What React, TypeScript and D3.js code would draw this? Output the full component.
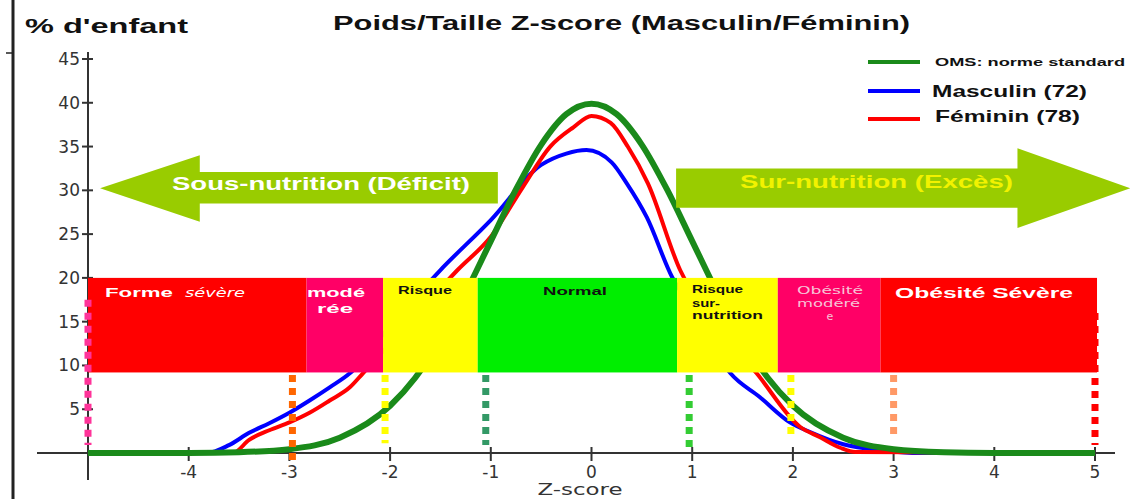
import React from "react";
import * as d3 from "d3";

// ---- data ----
const omsZ = [-5, -4, -3.5, -3, -2.5, -2, -1.75, -1.5, -1.25, -1, -0.75, -0.5, -0.25, 0, 0.25, 0.5, 0.75, 1, 1.25, 1.5, 1.75, 2, 2.5, 3, 3.5, 4, 5];
const omsPct = [0, 0.01, 0.09, 0.44, 1.75, 5.4, 8.6, 12.95, 18.3, 24.2, 30.1, 35.2, 38.7, 39.9, 38.7, 35.2, 30.1, 24.2, 18.3, 12.95, 8.6, 5.4, 1.75, 0.44, 0.09, 0.01, 0];

const masZ = [-5, -3.82, -3.6, -3.4, -3.2, -3.0, -2.8, -2.6, -2.4, -2.0, -1.5, -1.0, -0.5, -0.25, -0.05, 0.2, 0.35, 0.55, 0.8, 1.0, 1.38, 1.67, 1.97, 2.17, 2.5, 2.9, 3.25, 5];
const masPct = [0, 0, 0.9, 2.3, 3.4, 4.6, 6.0, 7.5, 9.1, 14.5, 20.9, 26.6, 32.9, 34.2, 34.6, 33.2, 30.8, 26.9, 20.1, 16.5, 9.1, 6.4, 3.5, 2.4, 1.0, 0.3, 0, 0];

const femZ = [-5, -3.56, -3.4, -3.2, -3.0, -2.8, -2.6, -2.4, -2.27, -1.8, -1.33, -1.0, -0.68, -0.41, -0.18, 0, 0.19, 0.36, 0.56, 0.88, 1.2, 1.64, 2.07, 2.27, 2.47, 2.62, 5];
const femPct = [0, 0, 1.5, 2.6, 3.5, 4.6, 6.0, 7.5, 9.1, 15, 20.9, 24.7, 30.4, 35.0, 37.2, 38.5, 37.7, 35.0, 30.8, 20.9, 15, 9.1, 3.0, 1.8, 0.6, 0.1, 0];

const xTicks = [-4, -3, -2, -1, 0, 1, 2, 3, 4, 5];
const yTicks = [5, 10, 15, 20, 25, 30, 35, 40, 45];

// classification bands (z edges), band spans 9.2% .. 20%
const bandEdges = [-5, -2.83, -2.07, -1.13, 0.85, 1.85, 2.87, 5.02];
const bandColors = ["#ff0000", "#ff0066", "#ffff00", "#00ee00", "#ffff00", "#ff0066", "#ff0000"];
const bandLow = 9.2;
const bandHigh = 20;

// dashed cut-off lines
const cutZ = [-5, -2.97, -2.05, -1.05, 0.97, 1.98, 3.0, 5.0];
const cutTop = [17.5, 8.9, 8.9, 8.9, 8.9, 8.9, 8.9, 16];
const cutBottom = [0.9, -1.1, 1.1, 0.9, 0.1, 1.8, 1.8, 0.9];
const cutColors = ["#ff3399", "#ff6600", "#ffff00", "#339966", "#33cc33", "#ffff00", "#ff9966", "#ff0000"];

const W = 1135;
const H = 499;

export default function App() {
  const x = d3.scaleLinear().domain([-5, 5]).range([88, 1095]);
  const y = d3.scaleLinear().domain([0, 45]).range([453, 59]);

  const line = d3
    .line<[number, number]>()
    .x((d) => x(d[0]))
    .y((d) => y(d[1]))
    .curve(d3.curveMonotoneX);

  const mk = (zs: number[], vs: number[]) => line(zs.map((z, i) => [z, vs[i]] as [number, number])) || "";

  // arrows in data units
  const leftArrow: [number, number][] = [
    [-4.88, 30.25], [-3.89, 34.0], [-3.89, 32.1], [-0.93, 32.1], [-0.93, 28.5], [-3.89, 28.5], [-3.89, 26.4],
  ];
  const rightArrow: [number, number][] = [
    [0.84, 32.5], [4.23, 32.5], [4.23, 34.8], [5.35, 30.25], [4.23, 25.7], [4.23, 28.0], [0.84, 28.0],
  ];
  const poly = (pts: [number, number][]) => pts.map((p) => `${x(p[0])},${y(p[1])}`).join(" ");

  const sans = "'Liberation Sans', Arial, sans-serif";
  const hand = "'DejaVu Sans', sans-serif";

  return (
    <svg width={W} height={H} style={{ position: "absolute", left: 0, top: 0, background: "#fff" }}>
      <rect width={W} height={H} fill="#fff" />
      {/* outer frame line */}
      <line x1={13} x2={13} y1={0} y2={H} stroke="#222" strokeWidth={3} />
      <line x1={6} x2={13} y1={53} y2={53} stroke="#222" strokeWidth={1.5} />

      {/* titles */}
      <text x={25} y={33} fontFamily={sans} fontWeight="bold" fontSize={20} textLength={163} lengthAdjust="spacingAndGlyphs" fill="#111">% d'enfant</text>
      <text x={333} y={30} fontFamily={sans} fontWeight="bold" fontSize={20} textLength={577} lengthAdjust="spacingAndGlyphs" fill="#111">Poids/Taille Z-score (Masculin/Féminin)</text>

      {/* legend */}
      <line x1={868} x2={920} y1={62} y2={62} stroke="#1a8a1a" strokeWidth={4} />
      <text x={935} y={66} fontFamily={sans} fontWeight="bold" fontSize={11} textLength={190} lengthAdjust="spacingAndGlyphs" fill="#111">OMS: norme standard</text>
      <line x1={868} x2={920} y1={91} y2={91} stroke="#0000ff" strokeWidth={4} />
      <text x={932} y={97} fontFamily={sans} fontWeight="bold" fontSize={17} textLength={155} lengthAdjust="spacingAndGlyphs" fill="#111">Masculin (72)</text>
      <line x1={868} x2={920} y1={119} y2={119} stroke="#ff0000" strokeWidth={4} />
      <text x={935} y={122} fontFamily={sans} fontWeight="bold" fontSize={17} textLength={145} lengthAdjust="spacingAndGlyphs" fill="#111">Féminin (78)</text>

      {/* x axis */}
      <line x1={37} x2={1115} y1={y(0)} y2={y(0)} stroke="#333" strokeWidth={2} />
      {xTicks.map((t) => (
        <g key={"xt" + t}>
          <line x1={x(t)} x2={x(t)} y1={y(0) - 6} y2={y(0) + 8} stroke="#333" strokeWidth={2} />
          <text x={x(t)} y={478} textAnchor="middle" fontFamily={hand} fontSize={17} fill="#333">{t}</text>
        </g>
      ))}
      <text x={580} y={495} textAnchor="middle" fontFamily={hand} fontSize={15} textLength={85} lengthAdjust="spacingAndGlyphs" fill="#333">Z-score</text>

      {/* y axis */}
      <line x1={x(-5)} x2={x(-5)} y1={52} y2={480} stroke="#333" strokeWidth={2} />
      {yTicks.map((t) => (
        <g key={"yt" + t}>
          <line x1={x(-5) - 6} x2={x(-5) + 5} y1={y(t)} y2={y(t)} stroke="#333" strokeWidth={2} />
          <text x={80} y={y(t) + 6} textAnchor="end" fontFamily={hand} fontSize={17} fill="#333">{t}</text>
        </g>
      ))}

      {/* curves */}
      <path d={mk(masZ, masPct)} fill="none" stroke="#0000ff" strokeWidth={4} />
      <path d={mk(femZ, femPct)} fill="none" stroke="#ff0000" strokeWidth={4} />
      <path d={mk(omsZ, omsPct)} fill="none" stroke="#1a8a1a" strokeWidth={6} />

      {/* arrows */}
      <polygon points={poly(leftArrow)} fill="#99cc00" />
      <polygon points={poly(rightArrow)} fill="#99cc00" />
      <text x={172} y={190} fontFamily={sans} fontWeight="bold" fontSize={18} textLength={298} lengthAdjust="spacingAndGlyphs" fill="#fff">Sous-nutrition (Déficit)</text>
      <text x={740} y={188} fontFamily={sans} fontWeight="bold" fontSize={18} textLength={273} lengthAdjust="spacingAndGlyphs" fill="#f2f200">Sur-nutrition (Excès)</text>

      {/* bands */}
      {bandColors.map((c, i) => (
        <rect key={"b" + i} x={x(bandEdges[i])} y={y(bandHigh)} width={x(bandEdges[i + 1]) - x(bandEdges[i])} height={y(bandLow) - y(bandHigh)} fill={c} />
      ))}

      {/* band labels */}
      <text x={105} y={297} fontFamily={sans} fontWeight="bold" fontSize={13} textLength={68} lengthAdjust="spacingAndGlyphs" fill="#fff">Forme</text>
      <text x={185} y={297} fontFamily={hand} fontStyle="italic" fontSize={12} textLength={60} lengthAdjust="spacingAndGlyphs" fill="#fff">sévère</text>
      <text x={307} y={297} fontFamily={sans} fontWeight="bold" fontSize={13} textLength={58} lengthAdjust="spacingAndGlyphs" fill="#fff">modé</text>
      <text x={317} y={313} fontFamily={sans} fontWeight="bold" fontSize={13} textLength={36} lengthAdjust="spacingAndGlyphs" fill="#fff">rée</text>
      <text x={398} y={294} fontFamily={sans} fontWeight="bold" fontSize={11} textLength={54} lengthAdjust="spacingAndGlyphs" fill="#111">Risque</text>
      <text x={543} y={295} fontFamily={sans} fontWeight="bold" fontSize={11} textLength={64} lengthAdjust="spacingAndGlyphs" fill="#111">Normal</text>
      <text x={692} y={293} fontFamily={sans} fontWeight="bold" fontSize={11} textLength={51} lengthAdjust="spacingAndGlyphs" fill="#111">Risque</text>
      <text x={692} y={307} fontFamily={sans} fontWeight="bold" fontSize={11} textLength={28} lengthAdjust="spacingAndGlyphs" fill="#111">sur-</text>
      <text x={692} y={319} fontFamily={sans} fontWeight="bold" fontSize={11} textLength={71} lengthAdjust="spacingAndGlyphs" fill="#111">nutrition</text>
      <text x={797} y={294} fontFamily={hand} fontSize={11} textLength={66} lengthAdjust="spacingAndGlyphs" fill="#f6c4d6">Obésité</text>
      <text x={797} y={307} fontFamily={hand} fontSize={11} textLength={63} lengthAdjust="spacingAndGlyphs" fill="#f6c4d6">modéré</text>
      <text x={830} y={320} textAnchor="middle" fontFamily={hand} fontSize={11} fill="#f6c4d6">e</text>
      <text x={895} y={298} fontFamily={sans} fontWeight="bold" fontSize={14} textLength={178} lengthAdjust="spacingAndGlyphs" fill="#fff">Obésité Sévère</text>

      {/* dashed cut-off lines */}
      {cutZ.map((z, i) => (
        <line key={"c" + i} x1={x(z)} x2={x(z)} y1={y(cutTop[i])} y2={y(cutBottom[i])} stroke={cutColors[i]} strokeWidth={7} strokeDasharray="7 6" />
      ))}
    </svg>
  );
}
